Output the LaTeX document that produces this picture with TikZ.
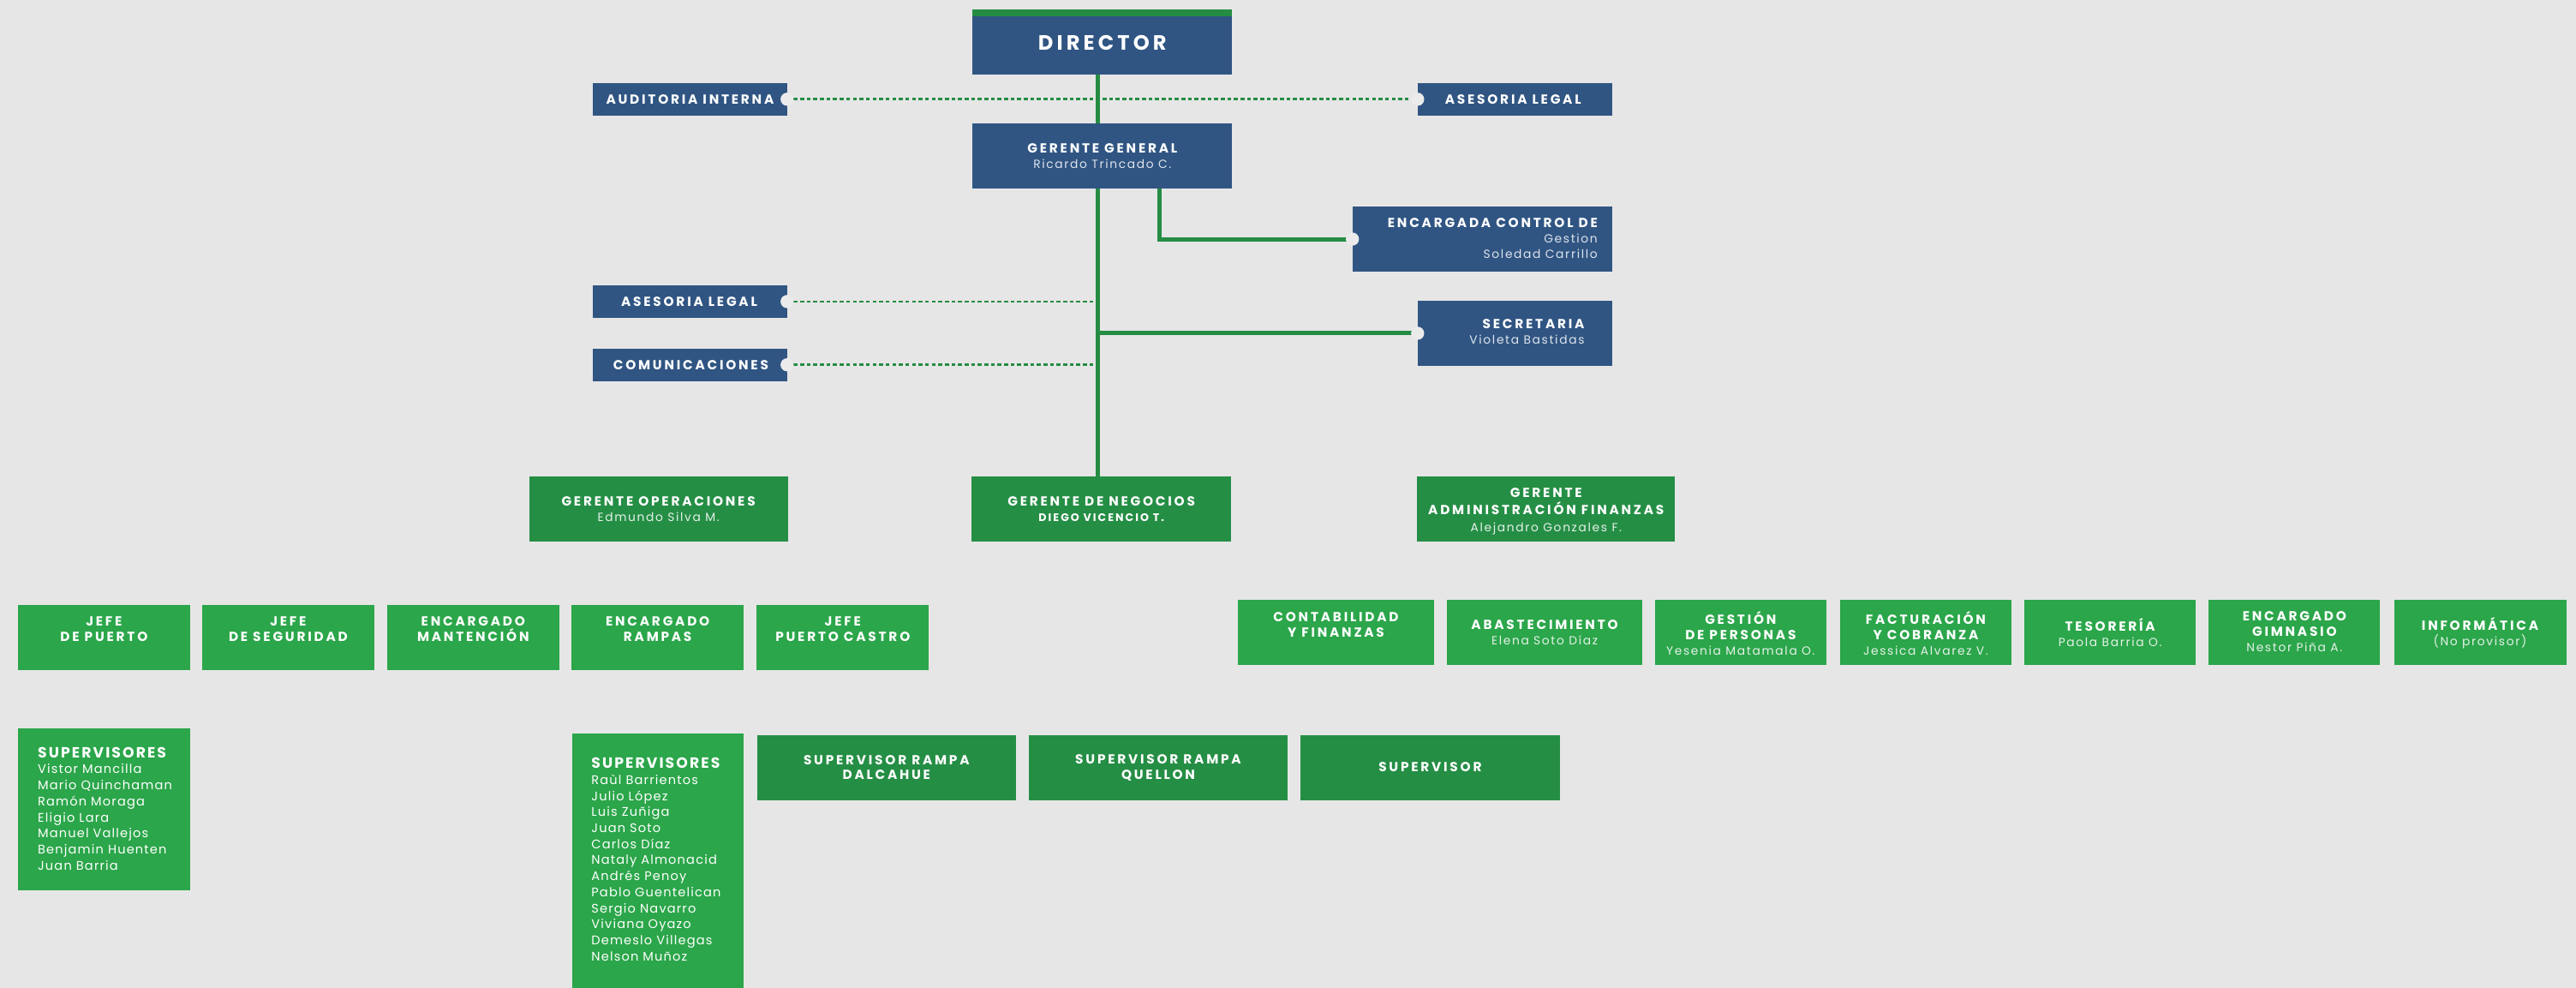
\documentclass[tikz,border=0pt]{standalone}
\usepackage{fontspec}
\setmainfont{Poppins}
\usetikzlibrary{fit}
\definecolor{bgc}{HTML}{E6E6E6}
\definecolor{bluec}{HTML}{305583}
\definecolor{dgreen}{HTML}{258E45}
\definecolor{lgreen}{HTML}{2BA64A}
\definecolor{lineg}{HTML}{258C44}
\definecolor{notchc}{HTML}{EBEBEB}
\colorlet{subb}{white!84!bluec}
\colorlet{subg}{white!88!dgreen}
\newcommand\fDir{\bfseries\fontsize{12.6}{14}\selectfont\addfontfeature{LetterSpace=17}}
\newcommand\fT{\bfseries\fontsize{8}{9.3}\selectfont\addfontfeature{LetterSpace=18}}
\newcommand\fTw{\bfseries\fontsize{8}{10.4}\selectfont\addfontfeature{LetterSpace=18}}
\newcommand\fS{\mdseries\fontsize{7.2}{9.3}\selectfont\addfontfeature{LetterSpace=12}}
\newcommand\subB[1]{{\fS\color{subb}#1}}
\newcommand\subG[1]{{\fS\color{subg}#1}}
\newcommand\fSupT{\bfseries\fontsize{9}{9.8}\selectfont\addfontfeature{LetterSpace=12}}
\newcommand\fName{\mdseries\fontsize{7.6}{9.75}\selectfont\addfontfeature{LetterSpace=8}}
\tikzset{
  box/.style={inner sep=0pt, outer sep=0pt, draw=none},
  bluebox/.style={box, fill=bluec},
  dbox/.style={box, fill=dgreen},
  lbox/.style={box, fill=lgreen},
  txt/.style={inner sep=0pt, outer sep=0pt, text=white, align=center, font=\fT},
  conn/.style={draw=lineg, line width=2.6pt},
  dotconn/.style={draw=lineg, line width=1.4pt, dash pattern=on 2.4pt off 1.6pt},
  notch/.style={fill=notchc, draw=none},
}
\begin{document}
\begin{tikzpicture}[x=1pt,y=-1pt]
\useasboundingbox[fill=bgc] (0,0) rectangle (1568,601.2);
% helper coordinates
\coordinate (trunk) at (668.2,0);
\coordinate (ggx) at (706,0);
% boxes
\node[bluebox, fit={(592,5.7) (750,45.2)}] (dir) {};
\node[bluebox, fit={(360.6,50.6) (479.1,70.2)}] (aud) {};
\node[bluebox, fit={(862.9,50.6) (981.3,70.2)}] (ase1) {};
\node[bluebox, fit={(592,75.1) (750,114.5)}] (gg) {};
\node[bluebox, fit={(823.2,125.7) (981.3,165.3)}] (enc) {};
\node[bluebox, fit={(360.6,173.6) (479.1,193.4)}] (ase2) {};
\node[bluebox, fit={(862.9,183) (981.3,222.6)}] (sec) {};
\node[bluebox, fit={(360.6,212.2) (479.1,231.8)}] (com) {};
\node[dbox, fit={(322.2,290) (479.5,329.3)}] (gop) {};
\node[dbox, fit={(591.2,290) (749.5,329.3)}] (gne) {};
\node[dbox, fit={(862.6,290) (1019.6,329.3)}] (gaf) {};
\node[lbox, fit={(11,368.4) (115.6,408)}] (j1) {};
\node[lbox, fit={(122.9,368.4) (227.9,408)}] (j2) {};
\node[lbox, fit={(235.5,368.4) (340.5,408)}] (j3) {};
\node[lbox, fit={(347.8,368.4) (452.8,408)}] (j4) {};
\node[lbox, fit={(460.5,368.4) (565.4,408)}] (j5) {};
\node[lbox, fit={(753.4,365) (872.9,404.4)}] (c1) {};
\node[lbox, fit={(880.9,365) (999.4,404.4)}] (c2) {};
\node[lbox, fit={(1007.2,365) (1111.7,404.4)}] (c3) {};
\node[lbox, fit={(1120,365) (1224.3,404.4)}] (c4) {};
\node[lbox, fit={(1232.2,365) (1336.5,404.4)}] (c5) {};
\node[lbox, fit={(1344.4,365) (1448.8,404.4)}] (c6) {};
\node[lbox, fit={(1457.2,365) (1562,404.4)}] (c7) {};
\node[lbox, fit={(11.1,443.2) (115.8,541.7)}] (s1) {};
\node[lbox, fit={(348.1,446.3) (452.8,601.2)}] (s2) {};
\node[dbox, fit={(460.7,447.3) (618.6,486.8)}] (sr1) {};
\node[dbox, fit={(626,447.3) (783.9,486.8)}] (sr2) {};
\node[dbox, fit={(791.6,447.3) (949.5,486.8)}] (sr3) {};
\fill[lineg] (dir.north west) rectangle ([yshift=-4.2pt]dir.north east);
% connectors
\draw[conn] (dir.south -| trunk) -- (gg.north -| trunk);
\draw[conn] (gg.south -| trunk) -- (gne.north -| trunk);
\draw[conn, line join=miter] (gg.south -| ggx) |- (enc.west);
\draw[conn] (sec.west -| trunk) -- (sec.west);
\draw[dotconn] (aud.east) -- (ase1.west);
\draw[dotconn] (ase2.east) -- (ase2.east -| trunk);
\draw[dotconn] (com.east) -- (com.east -| trunk);
\foreach \p in {aud.east, ase1.west, enc.west, sec.west, ase2.east, com.east}
  \fill[notch] (\p) circle[radius=4pt];
% texts
\node[txt, font=\fDir] (dir-t) at (671,26) {DIRECTOR};
\node[txt] (aud-t) at (420,60.4) {AUDITORIA INTERNA};
\node[txt] (ase1-t) at (921,60.4) {ASESORIA LEGAL};
\node[txt] (gg-t) at (671,94.9) {GERENTE GENERAL\\\subB{Ricardo Trincado C.}};
\node[txt, anchor=east, align=right] (enc-t) at (972.4,145.1) {ENCARGADA CONTROL DE\\\subB{Gestion}\\\subB{Soledad Carrillo}};
\node[txt] (ase2-t) at (419.5,183.5) {ASESORIA LEGAL};
\node[txt, anchor=east, align=right] (sec-t) at (964.4,202) {SECRETARIA\\\subB{Violeta Bastidas}};
\node[txt] (com-t) at (420.5,222.3) {COMUNICACIONES};
\node[txt] (gop-t) at (400.8,309.6) {GERENTE OPERACIONES\\\subG{Edmundo Silva M.}};
\node[txt] (gne-t) at (670.4,309.6) {GERENTE DE NEGOCIOS\\{\fontsize{6.6}{9.3}\selectfont\addfontfeature{LetterSpace=16}DIEGO VICENCIO T.}};
\node[txt, font=\fTw] (gaf-t) at (941.1,311) {GERENTE\\ADMINISTRACIÓN FINANZAS\\\subG{Alejandro Gonzales F.}};
\node[txt] (j1-t) at (63.3,383) {JEFE\\DE PUERTO};
\node[txt] (j2-t) at (175.4,383) {JEFE\\DE SEGURIDAD};
\node[txt] (j3-t) at (288,383) {ENCARGADO\\MANTENCIÓN};
\node[txt] (j4-t) at (400.3,383) {ENCARGADO\\RAMPAS};
\node[txt] (j5-t) at (513,383) {JEFE\\PUERTO CASTRO};
\node[txt] (c1-t) at (813.2,380.2) {CONTABILIDAD\\Y FINANZAS};
\node[txt] (c2-t) at (940.2,385) {ABASTECIMIENTO\\\subG{Elena Soto Díaz}};
\node[txt] (c3-t) at (1059.5,385.5) {GESTIÓN\\DE PERSONAS\\\subG{Yesenia Matamala O.}};
\node[txt] (c4-t) at (1172.2,385.5) {FACTURACIÓN\\Y COBRANZA\\\subG{Jessica Alvarez V.}};
\node[txt] (c5-t) at (1284.4,385) {TESORERÍA\\\subG{Paola Barria O.}};
\node[txt] (c6-t) at (1396.6,384.5) {ENCARGADO\\GIMNASIO\\\subG{Nestor Piña A.}};
\node[txt] (c7-t) at (1509.6,385.3) {INFORMÁTICA\\\subG{(No provisor)}};
\node[txt, anchor=north west, align=left, font=\fName] (s1-t) at (23,454.7) {{\fSupT SUPERVISORES}\\Vistor Mancilla\\Mario Quinchaman\\Ramón Moraga\\Eligio Lara\\Manuel Vallejos\\Benjamin Huenten\\Juan Barria};
\node[txt, anchor=north west, align=left, font=\fName] (s2-t) at (360,461.2) {{\fSupT SUPERVISORES}\\Raùl Barrientos\\Julio López\\Luis Zuñiga\\Juan Soto\\Carlos Díaz\\Nataly Almonacid\\Andrés Penoy\\Pablo Guentelican\\Sergio Navarro\\Viviana Oyazo\\Demeslo Villegas\\Nelson Muñoz};
\node[txt] (sr1-t) at (539.6,467) {SUPERVISOR RAMPA\\DALCAHUE};
\node[txt] (sr2-t) at (705,467) {SUPERVISOR RAMPA\\QUELLON};
\node[txt] (sr3-t) at (870.5,467) {SUPERVISOR};
\end{tikzpicture}
\end{document}
